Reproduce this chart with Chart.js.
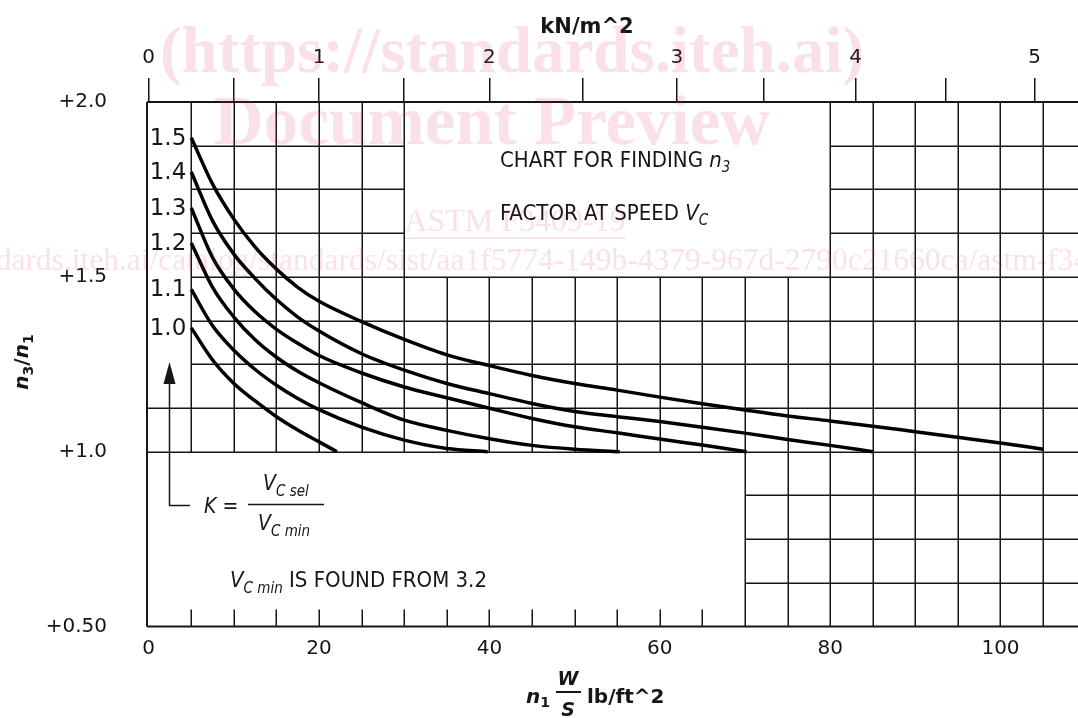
<!DOCTYPE html>
<html>
<head>
<meta charset="utf-8">
<title>Chart for finding n3 factor at speed Vc</title>
<script src="https://cdn.jsdelivr.net/npm/chart.js@4.4.1/dist/chart.umd.min.js"></script>
<style>
  html, body { margin: 0; padding: 0; background: #fff; }
  #wrap { width: 1078px; height: 718px; }
</style>
</head>
<body>
<div id="wrap"><canvas id="chart"></canvas></div>
<script>
// K = Vc sel / Vc min, one curve per value
const kLabels = ["1.0", "1.1", "1.2", "1.3", "1.4", "1.5"];

// n1 W/S (lb/ft^2) and n3/n1, per curve
const x10 = [5, 7.5, 10, 12.5, 15, 17.5, 20, 22.1];
const y10 = [1.354, 1.262, 1.195, 1.145, 1.10, 1.062, 1.028, 1.0];

const x11 = [5, 7.5, 10, 12.5, 15, 17.5, 20, 25, 30, 35, 39.8];
const y11 = [1.464, 1.36, 1.29, 1.235, 1.19, 1.152, 1.12, 1.07, 1.033, 1.009, 1.0];

const x12 = [5, 7.5, 10, 12.5, 15, 17.5, 20, 25, 30, 35, 40, 45, 50, 55.3];
const y12 = [1.597, 1.47, 1.385, 1.32, 1.27, 1.23, 1.197, 1.14, 1.09, 1.061, 1.037, 1.018, 1.007, 1.0];

const x13 = [5, 7.5, 10, 12.5, 15, 17.5, 20, 25, 30, 35, 40, 45, 50, 55, 60, 65, 70.2];
const y13 = [1.697, 1.555, 1.465, 1.40, 1.35, 1.31, 1.275, 1.225, 1.185, 1.154, 1.124, 1.095, 1.071, 1.054, 1.036, 1.019, 1.0];

const x14 = [5, 7.5, 10, 12.5, 15, 17.5, 20, 25, 30, 35, 40, 45, 50, 55, 60, 65, 70, 75, 80, 85];
const y14 = [1.80, 1.66, 1.565, 1.495, 1.435, 1.385, 1.345, 1.28, 1.233, 1.195, 1.166, 1.138, 1.115, 1.10, 1.086, 1.07, 1.053, 1.035, 1.018, 1.0];

const x15 = [5, 7.5, 10, 12.5, 15, 17.5, 20, 25, 30, 35, 40, 45, 50, 55, 60, 65, 70, 75, 80, 85, 90, 95, 100, 105];
const y15 = [1.898, 1.765, 1.665, 1.585, 1.522, 1.47, 1.43, 1.372, 1.321, 1.277, 1.246, 1.218, 1.195, 1.176, 1.156, 1.137, 1.119, 1.102, 1.088, 1.073, 1.057, 1.041, 1.025, 1.007];

// axis ticks
const xTicks = [0, 20, 40, 60, 80, 100];
const yTicks = [0.5, 1.0, 1.5, 2.0];
const yTickLabels = ["+0.50", "+1.0", "+1.5", "+2.0"];
// top scale (kN/m^2) marks, placed where the sheet puts them on the lb/ft^2 scale
const kNTickPos = [0, 10, 20, 30, 40, 51, 62, 72.2, 83, 93.6, 104];
const kNTickLabels = ["0", "", "1", "", "2", "", "3", "", "4", "", "5"];

const INK = "#161616";
const SANS = "'DejaVu Sans', Verdana, sans-serif";
const NOTE = "'DejaVu Sans Condensed', 'Liberation Sans Narrow', 'DejaVu Sans', sans-serif";
const SERIF = "'Liberation Serif', 'DejaVu Serif', serif";

const X_MIN = -0.2, X_MAX = 109.1;

const curves = [[x10, y10], [x11, y11], [x12, y12], [x13, y13], [x14, y14], [x15, y15]];

// sheet grid: which blocks are ruled
const hSegs = [];
[1.875, 1.75, 1.625].forEach(v => { hSegs.push([v, 5, 30]); hSegs.push([v, 80, null]); });
[1.5, 1.375, 1.25].forEach(v => hSegs.push([v, 5, null]));
[1.125, 1.0].forEach(v => hSegs.push([v, null, null]));
[0.875, 0.75, 0.625].forEach(v => hSegs.push([v, 70, null]));

const vSegs = [];
for (let g = 5; g <= 30; g += 5) vSegs.push([g, 1.0, 2.0]);
for (let g = 35; g <= 65; g += 5) vSegs.push([g, 1.0, 1.5]);
vSegs.push([70, 0.5, 1.5], [75, 0.5, 1.5]);
for (let g = 80; g <= 105; g += 5) vSegs.push([g, 0.5, 2.0]);

function rich(ctx, x, y, parts, align) {
  let w = 0;
  parts.forEach(p => { ctx.font = p.f; p.w = ctx.measureText(p.t).width; w += p.w; });
  let cx = align === "center" ? x - w / 2 : align === "right" ? x - w : x;
  ctx.textAlign = "left";
  ctx.textBaseline = "alphabetic";
  parts.forEach(p => { ctx.font = p.f; ctx.fillText(p.t, cx, y + (p.dy || 0)); cx += p.w; });
  return w;
}

const sheet = {
  id: "sheet",
  beforeDraw(chart) {
    const { ctx, width, height } = chart;
    ctx.save();
    ctx.fillStyle = "#fff";
    ctx.fillRect(0, 0, width, height);
    ctx.restore();
  },
  beforeDatasetsDraw(chart) {
    const { ctx, chartArea: a, scales: { x, y } } = chart;
    const px = v => x.getPixelForValue(v);
    const py = v => y.getPixelForValue(v);
    ctx.save();
    ctx.strokeStyle = INK;
    ctx.lineWidth = 1.5;
    ctx.beginPath();
    hSegs.forEach(([v, x0, x1]) => {
      const yy = Math.round(py(v)) + 0.25;
      ctx.moveTo(x0 == null ? a.left : px(x0), yy);
      ctx.lineTo(x1 == null ? a.right : px(x1), yy);
    });
    vSegs.forEach(([g, v0, v1]) => {
      const xx = Math.round(px(g)) + 0.25;
      ctx.moveTo(xx, py(v0));
      ctx.lineTo(xx, py(v1));
    });
    // short ticks along the bottom edge
    for (let g = 5; g <= 65; g += 5) {
      const xx = Math.round(px(g)) + 0.25;
      ctx.moveTo(xx, a.bottom);
      ctx.lineTo(xx, a.bottom - 17);
    }
    ctx.stroke();

    // outer edges
    ctx.lineWidth = 2;
    ctx.beginPath();
    ctx.moveTo(a.left, a.top); ctx.lineTo(a.right, a.top);
    ctx.moveTo(a.left, a.bottom); ctx.lineTo(a.right, a.bottom);
    ctx.moveTo(a.left, a.top); ctx.lineTo(a.left, a.bottom);
    ctx.stroke();
    ctx.restore();
  },
  afterDatasetsDraw(chart) {
    const { ctx, scales: { x, y } } = chart;
    ctx.save();
    ctx.fillStyle = INK;
    ctx.strokeStyle = INK;

    // curve labels at the start of each curve
    ctx.font = "23px " + SANS;
    ctx.textAlign = "right";
    ctx.textBaseline = "middle";
    chart.data.datasets.forEach(ds => {
      const p = ds.data[0];
      ctx.fillText(ds.label, x.getPixelForValue(p.x) - 5, y.getPixelForValue(p.y) + 1);
    });

    // title box text
    rich(ctx, 500, 167, [
      { t: "CHART FOR FINDING ", f: "22px " + NOTE },
      { t: "n", f: "italic 22px " + NOTE },
      { t: "3", f: "italic 15px " + NOTE, dy: 5 }
    ]);
    rich(ctx, 500, 220, [
      { t: "FACTOR AT SPEED ", f: "22px " + NOTE },
      { t: "V", f: "italic 22px " + NOTE },
      { t: "C", f: "italic 15px " + NOTE, dy: 5 }
    ]);

    // arrow with leader
    ctx.lineWidth = 1.5;
    ctx.beginPath();
    ctx.moveTo(190, 505.5); ctx.lineTo(169.5, 505.5); ctx.lineTo(169.5, 380);
    ctx.stroke();
    ctx.beginPath();
    ctx.moveTo(169.5, 362); ctx.lineTo(163.5, 384); ctx.lineTo(175.5, 384); ctx.closePath();
    ctx.fill();

    // K = Vc sel / Vc min
    rich(ctx, 204, 513, [{ t: "K", f: "italic 21px " + NOTE }, { t: " =", f: "21px " + NOTE }]);
    ctx.beginPath(); ctx.moveTo(248, 504.5); ctx.lineTo(324, 504.5); ctx.stroke();
    rich(ctx, 263, 490, [
      { t: "V", f: "italic 21px " + NOTE },
      { t: "C sel", f: "italic 15px " + NOTE, dy: 6 }
    ]);
    rich(ctx, 258, 530, [
      { t: "V", f: "italic 21px " + NOTE },
      { t: "C min", f: "italic 15px " + NOTE, dy: 6 }
    ]);
    rich(ctx, 230, 587, [
      { t: "V", f: "italic 22px " + NOTE },
      { t: "C min", f: "italic 15px " + NOTE, dy: 6 },
      { t: " IS FOUND FROM 3.2", f: "22px " + NOTE }
    ]);

    // axis titles
    ctx.font = "bold 21px " + SANS;
    ctx.textAlign = "center";
    ctx.textBaseline = "alphabetic";
    ctx.fillText("kN/m^2", 587, 33);

    rich(ctx, 526, 703, [
      { t: "n", f: "bold italic 20px " + SANS },
      { t: "1", f: "bold 14px " + SANS, dy: 4 }
    ]);
    rich(ctx, 568, 685, [{ t: "W", f: "bold italic 19px " + SANS }], "center");
    ctx.lineWidth = 2;
    ctx.beginPath(); ctx.moveTo(556, 692); ctx.lineTo(581, 692); ctx.stroke();
    rich(ctx, 568, 716, [{ t: "S", f: "bold italic 19px " + SANS }], "center");
    rich(ctx, 587, 703, [{ t: "lb/ft^2", f: "bold 20px " + SANS }]);

    ctx.save();
    ctx.translate(28, 362);
    ctx.rotate(-Math.PI / 2);
    rich(ctx, 0, 0, [
      { t: "n", f: "bold italic 20px " + SANS },
      { t: "3", f: "bold 14px " + SANS, dy: 5 },
      { t: "/", f: "bold 20px " + SANS },
      { t: "n", f: "bold italic 20px " + SANS },
      { t: "1", f: "bold 14px " + SANS, dy: 5 }
    ], "center");
    ctx.restore();
    ctx.restore();
  },
  afterDraw(chart) {
    // pale preview watermark over the sheet
    const { ctx } = chart;
    ctx.save();
    ctx.fillStyle = "rgba(220, 40, 90, 0.14)";
    ctx.strokeStyle = "rgba(220, 40, 90, 0.14)";
    ctx.textAlign = "center";
    ctx.textBaseline = "alphabetic";
    ctx.font = "bold 65px " + SERIF;
    ctx.fillText("(https://standards.iteh.ai)", 512, 72);
    ctx.font = "bold 69px " + SERIF;
    ctx.fillText("Document Preview", 492, 144);
    ctx.font = "32px " + SERIF;
    ctx.fillText("ASTM F3409-19", 515, 231);
    const w = ctx.measureText("ASTM F3409-19").width;
    ctx.lineWidth = 1.5;
    ctx.beginPath(); ctx.moveTo(515 - w / 2, 238); ctx.lineTo(515 + w / 2, 238); ctx.stroke();
    ctx.font = "31.5px " + SERIF;
    ctx.fillText("https://standards.iteh.ai/catalog/standards/sist/aa1f5774-149b-4379-967d-2790c21660ca/astm-f3409-19", 510, 270);
    ctx.restore();
  }
};

const datasets = curves.map(([xs, ys], i) => ({
  label: kLabels[i],
  data: xs.map((v, j) => ({ x: v, y: ys[j] })),
  showLine: true,
  borderColor: "#000",
  borderWidth: 3.5,
  pointRadius: 0,
  cubicInterpolationMode: "monotone",
  fill: false
}));

const tickFont = { family: SANS, size: 20 };

new Chart(document.getElementById("chart"), {
  type: "scatter",
  data: { datasets },
  options: {
    responsive: true,
    maintainAspectRatio: false,
    animation: false,
    layout: { padding: 0 },
    plugins: { legend: { display: false }, tooltip: { enabled: false } },
    scales: {
      x: {
        type: "linear",
        position: "bottom",
        min: X_MIN,
        max: X_MAX,
        afterBuildTicks: (s) => { s.ticks = xTicks.map(v => ({ value: v })); },
        afterFit: (s) => { s.height = 91.5; },
        ticks: { color: INK, font: tickFont, padding: 10, maxRotation: 0, autoSkip: false, callback: (v) => String(v) },
        grid: { display: false, drawTicks: false },
        border: { display: false }
      },
      x2: {
        type: "linear",
        position: "top",
        min: X_MIN,
        max: X_MAX,
        afterBuildTicks: (s) => { s.ticks = kNTickPos.map(v => ({ value: v })); },
        afterFit: (s) => { s.height = 102; },
        ticks: { color: INK, font: tickFont, padding: 8, maxRotation: 0, autoSkip: false, callback: (v, i) => kNTickLabels[i] },
        grid: { display: true, drawOnChartArea: false, drawTicks: true, tickLength: 24, color: INK, lineWidth: 1.5 },
        border: { display: false }
      },
      y: {
        type: "linear",
        min: 0.5,
        max: 2.0,
        afterBuildTicks: (s) => { s.ticks = yTicks.map(v => ({ value: v })); },
        afterFit: (s) => { s.width = 147; },
        ticks: { color: INK, font: tickFont, padding: 40, autoSkip: false, callback: (v, i) => yTickLabels[i] },
        grid: { display: false, drawTicks: false },
        border: { display: false }
      }
    }
  },
  plugins: [sheet]
});
</script>
</body>
</html>
